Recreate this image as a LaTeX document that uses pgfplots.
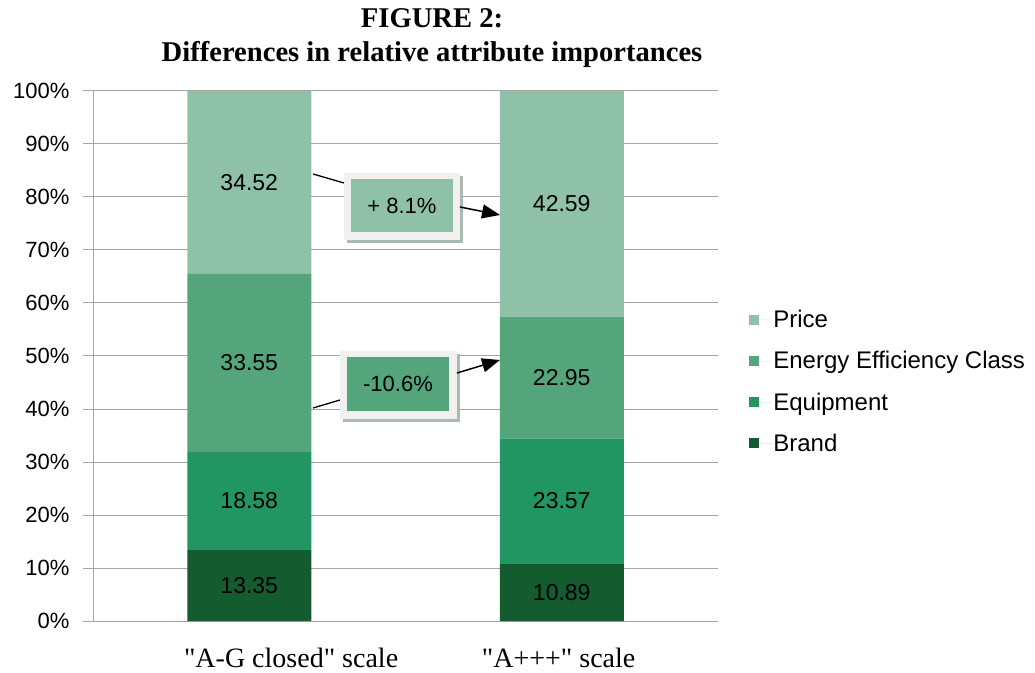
\documentclass[border=0pt]{standalone}
\usepackage{pgfplots}
\usepackage{pgfplotstable}
\pgfplotsset{compat=1.18}
\usepackage{fontspec}
\setmainfont{Liberation Serif}
\newfontfamily\arial{Liberation Sans}
\usetikzlibrary{arrows.meta}
\definecolor{cPrice}{RGB}{143,193,168}
\definecolor{cEnergy}{RGB}{84,165,124}
\definecolor{cEquip}{RGB}{34,150,98}
\definecolor{cBrand}{RGB}{20,92,48}
\definecolor{gridgray}{RGB}{166,166,166}
\definecolor{framegray}{RGB}{240,240,240}
\definecolor{shadowgray}{RGB}{170,186,176}
% segment labels placed at the middle of each stacked segment
\pgfplotstableread{
x y lab
0 6.675 13.35
0 22.64 18.58
0 48.705 33.55
0 82.74 34.52
1 5.445 10.89
1 22.675 23.57
1 45.935 22.95
1 78.705 42.59
}\labtable
\begin{document}
\begin{tikzpicture}[x=1pt,y=1pt]
\useasboundingbox (0,0) rectangle (1035,672);
\begin{axis}[
  at={(93pt,51pt)}, anchor=south west,
  scale only axis, width=625pt, height=530pt,
  ybar stacked, bar width=124pt,
  xmin=-0.5, xmax=1.5, ymin=0, ymax=100,
  xtick={0.134,0.99}, xticklabels={{\textquotedbl A-G closed\textquotedbl\ scale},{\textquotedbl A+++\textquotedbl\ scale}},
  extra x ticks={0.5}, extra x tick labels={},
  extra x tick style={major tick length=8pt, tick style={draw=gridgray, line width=1pt}},
  x tick style={draw=none},
  ytick={0,10,...,100},
  yticklabel={\pgfmathprintnumber{\tick}\%},
  /pgf/number format/assume math mode=true,
  tick align=outside, major tick length=10pt,
  y tick style={draw=gridgray, line width=1pt},
  ymajorgrids, grid style={draw=gridgray, line width=1pt},
  axis x line*=bottom, axis y line*=left,
  axis line style={draw=gridgray, line width=1pt, -},
  yticklabel style={font=\arial\fontsize{22}{24}\selectfont, text=black, xshift=-10pt},
  xticklabel style={font=\fontsize{28}{30}\selectfont, text=black, yshift=-14pt},
  reverse legend,
  legend cell align=left,
  legend style={at={(1.045,0.594)}, anchor=north west, draw=none, fill=none,
    font=\arial\fontsize{24}{26}\selectfont, row sep=18.3pt},
  legend image code/.code={\fill[#1] (0pt,-5pt) rectangle (10pt,5pt); \path (0pt,0pt) -- (22pt,0pt);},
]
\addplot[fill=cBrand, draw=none] coordinates {(0,13.35) (1,10.89)};
\addplot[fill=cEquip, draw=none] coordinates {(0,18.58) (1,23.57)};
\addplot[fill=cEnergy, draw=none] coordinates {(0,33.55) (1,22.95)};
\addplot[fill=cPrice, draw=none] coordinates {(0,34.52) (1,42.59)};
\legend{Brand, Equipment, Energy Efficiency Class, Price}
\end{axis}
\begin{axis}[
  at={(93pt,51pt)}, anchor=south west,
  scale only axis, width=625pt, height=530pt,
  xmin=-0.5, xmax=1.5, ymin=0, ymax=100, hide axis,
]
\addplot[only marks, mark=none, nodes near coords, point meta=explicit symbolic,
  every node near coord/.style={anchor=center, font=\arial\fontsize{23}{25}\selectfont, text=black}]
  table[x=x, y=y, meta=lab] {\labtable};
\end{axis}
% title
\node[font=\bfseries\fontsize{28.6}{31}\selectfont] at (432,654) {FIGURE 2:};
\node[font=\bfseries\fontsize{28.6}{31}\selectfont] at (432,618) {Differences in relative attribute importances};
% callout 1
\draw[black, line width=1.3pt] (313,498) -- (344,489);
\fill[shadowgray] (347,429) rectangle (463,496);
\fill[framegray] (344,432) rectangle (460,499);
\fill[cPrice] (351,440) rectangle (453,493);
\node[font=\arial\fontsize{22}{24}\selectfont] at (402,466) {+ 8.1\%};
\draw[black, line width=1.5pt, -{Triangle[length=18pt,width=14pt]}] (460,465) -- (500,457);
% callout 2
\draw[black, line width=1.3pt] (313,264) -- (340,272);
\fill[shadowgray] (343,250) rectangle (460,318);
\fill[framegray] (340,253) rectangle (457,321);
\fill[cEnergy] (347,261) rectangle (449,315);
\node[font=\arial\fontsize{22}{24}\selectfont] at (398,288) {-10.6\%};
\draw[black, line width=1.5pt, -{Triangle[length=18pt,width=14pt]}] (457,299) -- (500,312);
\end{tikzpicture}
\end{document}
